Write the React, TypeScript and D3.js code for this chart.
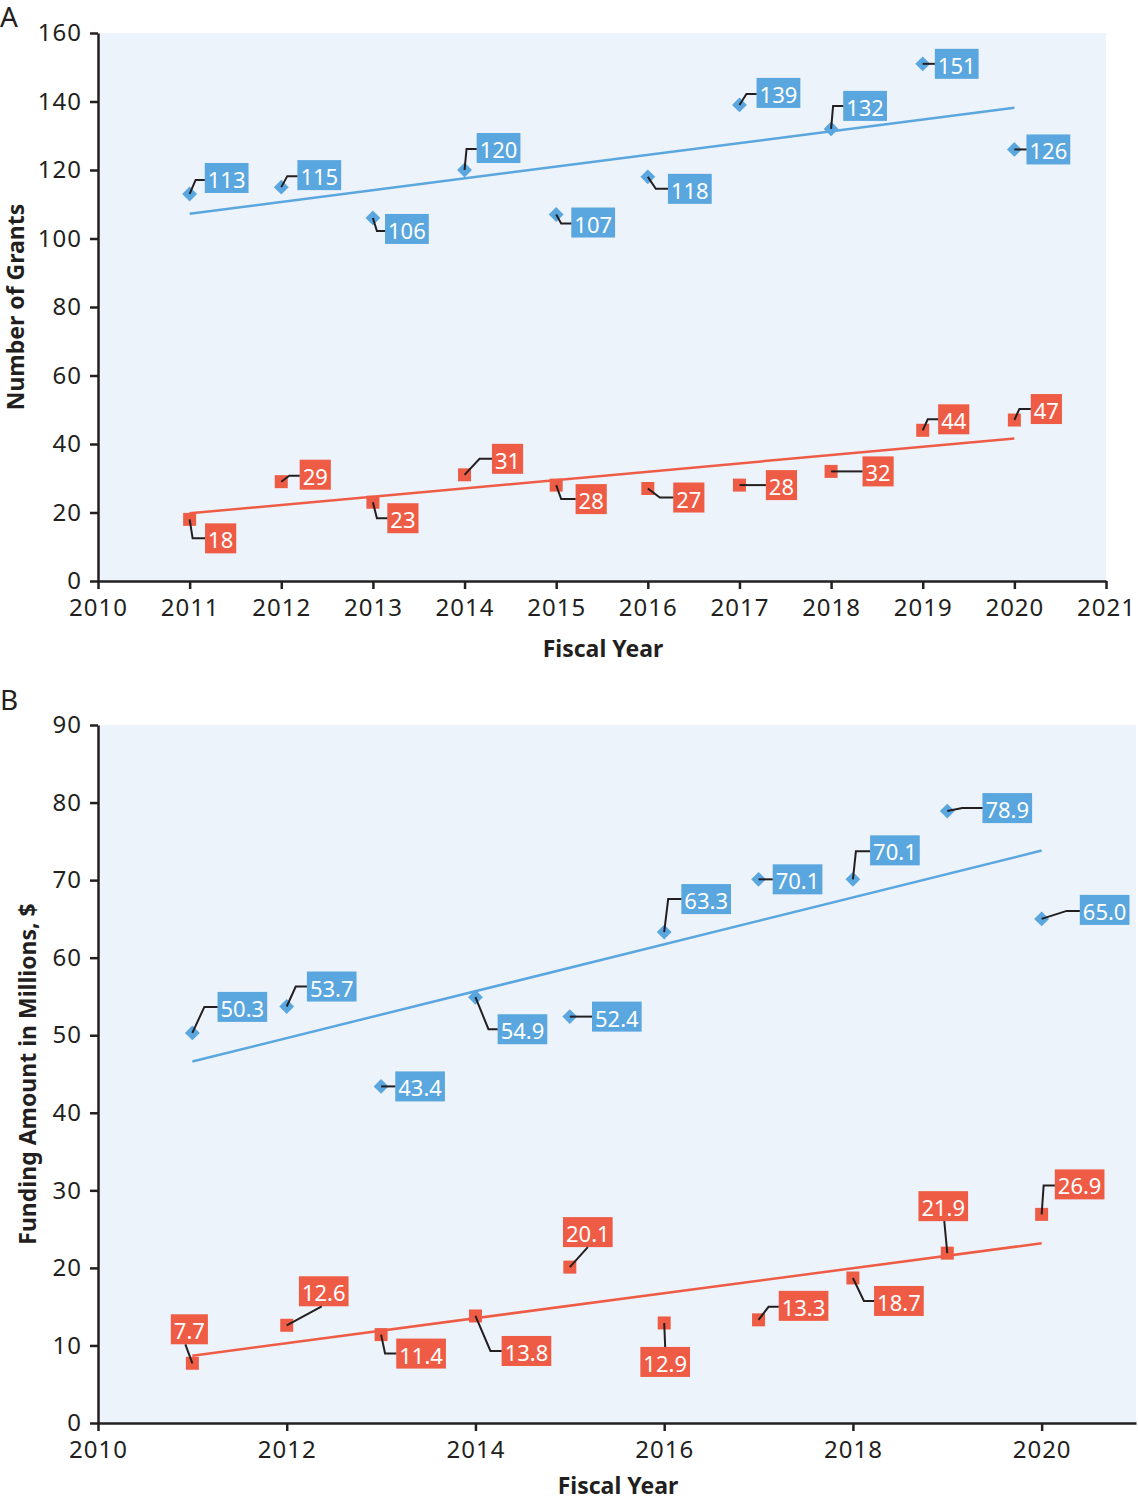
import React, { useRef, useEffect } from 'react';
import * as d3 from 'd3';

const years = [2011, 2012, 2013, 2014, 2015, 2016, 2017, 2018, 2019, 2020];

// panel A: number of grants
const grantsBlue = [113, 115, 106, 120, 107, 118, 139, 132, 151, 126];
const grantsRed = [18, 29, 23, 31, 28, 27, 28, 32, 44, 47];
const grantTicksX = [2010, 2011, 2012, 2013, 2014, 2015, 2016, 2017, 2018, 2019, 2020, 2021];
const grantTicksY = [0, 20, 40, 60, 80, 100, 120, 140, 160];

// panel B: funding amount ($M)
const fundingBlue = [50.3, 53.7, 43.4, 54.9, 52.4, 63.3, 70.1, 70.1, 78.9, 65.0];
const fundingRed = [7.7, 12.6, 11.4, 13.8, 20.1, 12.9, 13.3, 18.7, 21.9, 26.9];
const fundingTicksX = [2010, 2012, 2014, 2016, 2018, 2020];
const fundingTicksY = [0, 10, 20, 30, 40, 50, 60, 70, 80, 90];

// label placement in px: [box dx, box dy, elbow dx, elbow dy] relative to the point
const grantsBlueLabels = [
  [37, -16, 6, -14], [38, -12, 6, -11], [34, 11, 4, 13], [34, -22, 2, -21], [37, 8, 5, 9],
  [42, 12, 8, 12], [39, -12, 7, -11], [34, -23, 2, -23], [34, 0, 6, 0], [34, 0, 6, 0],
];
const grantsRedLabels = [
  [31, 19, 3, 19], [34, -7, 8, -6], [30, 16, 4, 16], [43, -16, 15, -16], [35, 14, 5, 14],
  [41, 9, 12, 9], [42, 0, 8, 0], [47, 0, 8, 0], [31, -11, 5, -11], [32, -11, 5, -11],
];
const fundingBlueLabels = [
  [50, -26, 12, -26], [45, -20, 9, -20], [39, 0, 6, 0], [47, 32, 13, 32], [47, 0, 8, 0],
  [42, -33, 4, -33], [39, 0, 6, 0], [42, -29, 3, -28], [60, -3, 15, -3], [63, -9, 25, -8],
];
const fundingRedLabels = [
  [-3, -34, -7, -19], [37, -34, 35, -19], [40, 19, 4, 19], [51, 35, 15, 35], [18, -35, 18, -20],
  [1, 39, 1, 24], [45, -14, 10, -13], [46, 23, 11, 23], [-4, -47, -3, -32], [38, -30, 2, -29],
];

const BLUE = '#5aa6de';
const RED = '#ef5c46';
const INK = '#231f20';
const FONT = '"Noto Sans", sans-serif';

function fit(xs, ys) {
  const mx = d3.mean(xs), my = d3.mean(ys);
  const sxy = d3.sum(xs, (v, i) => (v - mx) * (ys[i] - my));
  const sxx = d3.sum(xs, (v) => (v - mx) * (v - mx));
  const b = sxy / sxx;
  return (v) => my + b * (v - mx);
}

function drawPanel(svg, cfg) {
  const x = d3.scaleLinear().domain([2010, 2021]).range([cfg.left, cfg.right]);
  const y = d3.scaleLinear().domain(cfg.yDomain).range([cfg.bottom, cfg.top]);
  const g = svg.append('g');

  g.append('rect')
    .attr('x', cfg.left).attr('y', cfg.top)
    .attr('width', cfg.right - cfg.left).attr('height', cfg.bottom - cfg.top)
    .attr('fill', '#ecf3fb');

  const ax = g.append('g')
    .attr('transform', `translate(0,${cfg.bottom})`)
    .call(d3.axisBottom(x).tickValues(cfg.ticksX).tickFormat(d3.format('d')).tickSize(8).tickSizeOuter(0).tickPadding(10));
  const ay = g.append('g')
    .attr('transform', `translate(${cfg.left},0)`)
    .call(d3.axisLeft(y).tickValues(cfg.ticksY).tickSize(8).tickSizeOuter(0).tickPadding(8));
  [ax, ay].forEach((a) => {
    a.selectAll('path, line').attr('stroke', INK).attr('stroke-width', 2.5);
    a.selectAll('text').attr('font-family', FONT).attr('font-size', 24)
      .attr('letter-spacing', 1).attr('fill', INK);
  });

  g.append('text')
    .attr('x', (cfg.left + cfg.right) / 2 + 1).attr('y', cfg.xTitleY)
    .attr('text-anchor', 'middle').attr('font-family', FONT).attr('font-weight', 700)
    .attr('font-size', 23).attr('fill', INK).text('Fiscal Year');
  g.append('text')
    .attr('transform', `translate(${cfg.yTitleX},${cfg.yTitleY}) rotate(-90)`)
    .attr('text-anchor', 'middle').attr('dominant-baseline', 'central')
    .attr('font-family', FONT).attr('font-weight', 700)
    .attr('font-size', 23).attr('fill', INK).text(cfg.yTitle);
  g.append('text')
    .attr('x', 0).attr('y', cfg.panelY)
    .attr('font-family', FONT).attr('font-size', 28).attr('fill', INK).text(cfg.panel);

  cfg.series.forEach((s) => {
    const trend = fit(years, s.values);
    g.append('line')
      .attr('x1', x(years[0])).attr('y1', y(trend(years[0])))
      .attr('x2', x(years[years.length - 1])).attr('y2', y(trend(years[years.length - 1])))
      .attr('stroke', s.color).attr('stroke-width', 2.5);

    const sym = d3.symbol().type(d3.symbolSquare).size(s.diamond ? 110 : 169);
    g.selectAll(null).data(s.values).enter().append('path')
      .attr('d', sym)
      .attr('transform', (d, i) => `translate(${x(years[i])},${y(d)})${s.diamond ? ' rotate(45)' : ''}`)
      .attr('fill', s.color);

    s.values.forEach((v, i) => {
      const px = x(years[i]), py = y(v);
      const [dx, dy, ex, ey] = s.labels[i];
      const bx = px + dx, by = py + dy;
      const lg = g.append('g');
      const t = lg.append('text')
        .attr('x', bx).attr('y', by + 1)
        .attr('text-anchor', 'middle').attr('dominant-baseline', 'central')
        .attr('font-family', FONT).attr('font-size', 22).attr('fill', '#fff')
        .text(s.format(v));
      const w = t.node().getComputedTextLength() + 6;
      const h = 30;
      const left = bx - w / 2, right = bx + w / 2, top = by - h / 2, bottom = by + h / 2;
      lg.insert('rect', 'text')
        .attr('x', left).attr('y', top).attr('width', w).attr('height', h)
        .attr('fill', s.color);

      const elx = px + ex, ely = py + ey;
      let end;
      if (ely > top + 2 && ely < bottom - 2) {
        end = [elx < left ? left : right, ely];
      } else {
        end = [elx, Math.abs(ely - top) < Math.abs(ely - bottom) ? top : bottom];
      }
      g.append('path')
        .attr('d', d3.line()([[px, py], [elx, ely], end]))
        .attr('fill', 'none').attr('stroke', INK).attr('stroke-width', 2);
    });
  });
}

export default function App() {
  const ref = useRef(null);

  useEffect(() => {
    const svg = d3.select(ref.current);
    svg.selectAll('*').remove();

    drawPanel(svg, {
      panel: 'A', panelY: 27,
      left: 98, right: 1106, top: 33, bottom: 581,
      yDomain: [0, 160], ticksX: grantTicksX, ticksY: grantTicksY,
      yTitle: 'Number of Grants', yTitleX: 15, yTitleY: 307, xTitleY: 657,
      series: [
        { values: grantsBlue, labels: grantsBlueLabels, color: BLUE, diamond: true, format: d3.format('d') },
        { values: grantsRed, labels: grantsRedLabels, color: RED, diamond: false, format: d3.format('d') },
      ],
    });

    drawPanel(svg, {
      panel: 'B', panelY: 710,
      left: 98, right: 1136, top: 725, bottom: 1423,
      yDomain: [0, 90], ticksX: fundingTicksX, ticksY: fundingTicksY,
      yTitle: 'Funding Amount in Millions, $', yTitleX: 27, yTitleY: 1074, xTitleY: 1494,
      series: [
        { values: fundingBlue, labels: fundingBlueLabels, color: BLUE, diamond: true, format: d3.format('.1f') },
        { values: fundingRed, labels: fundingRedLabels, color: RED, diamond: false, format: d3.format('.1f') },
      ],
    });
  }, []);

  return (
    <svg ref={ref} width={1138} height={1500}
      style={{ position: 'absolute', left: 0, top: 0, background: '#fff' }} />
  );
}
